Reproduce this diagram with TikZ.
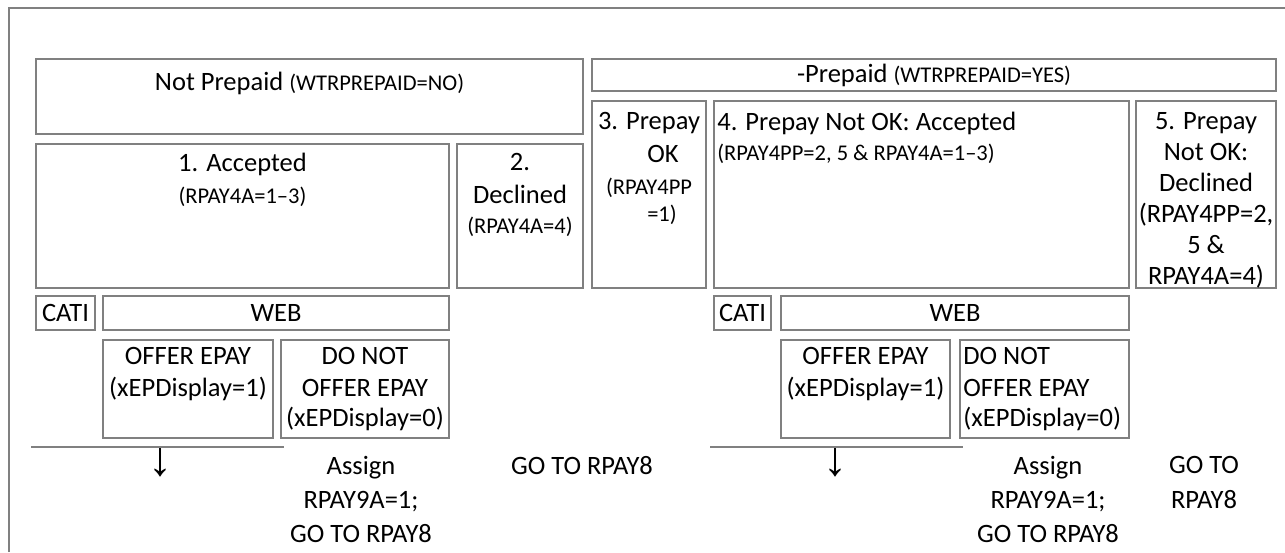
\documentclass[tikz,border=0pt]{standalone}
\usepackage{fontspec}
\setmainfont{Carlito}
\newfontfamily\arrowfont{Liberation Sans}
\usetikzlibrary{positioning, fit}
\definecolor{cline}{RGB}{128,128,128}
\newcommand{\bigtxt}{\fontsize{13.25pt}{16pt}\selectfont}
\newcommand{\smalltxt}{\fontsize{11.25pt}{14pt}\selectfont}

\begin{document}
\begin{tikzpicture}[
  x=0.5pt, y=-0.5pt,
  cell/.style = {rectangle, draw=cline, line width=1pt, inner sep=0pt},
  lbl/.style  = {inner sep=0pt, align=center, font=\bigtxt},
  lbll/.style = {inner sep=0pt, align=left, font=\bigtxt},
  rule/.style = {draw=cline, line width=1pt},
]
\useasboundingbox (0,0) rectangle (1285,552);
% outer frame (open right and bottom)
\coordinate (fbl) at (9,552);
\coordinate (ftl) at (9,8);
\coordinate (ftr) at (1285,8);
\draw[rule] (fbl) -- (ftl) -- (ftr);

% Row 1: headers
\node[cell, fit={(36,59) (583,134)}]    (np)  {};
\node[cell, fit={(592,59) (1276,91)}]   (pp)  {};
\node[lbl, below=7pt of np.north] (nptxt) {Not Prepaid {\smalltxt(WTRPREPAID=NO)}};
\node[lbl] at (pp.center)          (pptxt) {-Prepaid {\smalltxt(WTRPREPAID=YES)}};

% Row 2: outcomes
\node[cell, fit={(36,144) (449,288)}]   (acc) {};
\node[cell, fit={(457,144) (583,288)}]  (dec) {};
\node[cell, fit={(592,101) (706,288)}]  (ok)  {};
\node[cell, fit={(714,101) (1129,288)}] (nacc){};
\node[cell, fit={(1136,101) (1276,288)}](ndec){};
\node[lbl, below=5pt of acc.north]  (acctxt)  {1. Accepted\\ \smalltxt (RPAY4A=1–3)};
\node[lbl, below=5pt of dec.north]  (dectxt)  {2.\\[0.5pt] Declined\\[-1pt] \smalltxt (RPAY4A=4)};
\node[lbl, below=6pt of ok.north]   (oktxt)   {3. Prepay\\[0.5pt] \hspace*{14pt}OK\\
  \smalltxt (RPAY4PP\\[-2.5pt] \smalltxt \hspace*{13pt}=1)};
\node[lbll, anchor=north west] at ([xshift=2pt,yshift=-6pt]nacc.north west) (nacctxt)
  {4. Prepay Not OK: Accepted\\[-1pt] \smalltxt (RPAY4PP=2, 5 \& RPAY4A=1–3)};
\node[lbl, below=6pt of ndec.north] (ndectxt) {5. Prepay\\[-0.5pt] Not OK:\\[-0.5pt]
  Declined\\[-0.5pt] (RPAY4PP=2,\\[-0.5pt] 5 \&\\[-0.5pt] RPAY4A=4)};

% Row 3: mode (left)
\node[cell, fit={(36,296) (95,330)}]    (catil) {};
\node[cell, fit={(103,296) (449,330)}]  (webl)  {};
\node[lbl] at (catil.center) (catiltxt) {CATI};
\node[lbl] at (webl.center)  (webltxt)  {WEB};
\node[cell, fit={(103,340) (273,438)}]  (offl)  {};
\node[cell, fit={(281,340) (449,438)}]  (noffl) {};
\node[lbl, below=4pt of offl.north]  (offltxt)  {OFFER EPAY\\ (xEPDisplay=1)};
\node[lbl, below=4pt of noffl.north] (noffltxt) {DO NOT\\ OFFER EPAY\\[-1pt] (xEPDisplay=0)};

% Row 3: mode (right)
\node[cell, fit={(714,296) (771,330)}]  (catir) {};
\node[cell, fit={(781,296) (1129,330)}] (webr)  {};
\node[lbl] at (catir.center) (catirtxt) {CATI};
\node[lbl] at (webr.center)  (webrtxt)  {WEB};
\node[cell, fit={(781,340) (950,438)}]  (offr)  {};
\node[cell, fit={(960,340) (1129,438)}] (noffr) {};
\node[lbl, below=4pt of offr.north] (offrtxt) {OFFER EPAY\\ (xEPDisplay=1)};
\node[lbll, anchor=north west] at ([xshift=2pt,yshift=-4pt]noffr.north west) (noffrtxt)
  {DO NOT\\ OFFER EPAY\\[-1pt] (xEPDisplay=0)};

% Rules above routing
\coordinate (rl1) at (31,447);  \coordinate (rl2) at (284,447);
\coordinate (rr1) at (710,447); \coordinate (rr2) at (963,447);
\draw[rule] (rl1) -- (rl2);
\draw[rule] (rr1) -- (rr2);

% Routing
\node[lbl] at (160,463)  (arrl) {\arrowfont\fontsize{24pt}{24pt}\selectfont ↓};
\node[lbl, anchor=north] at (361,456)  (asgl) {Assign\\[1pt] RPAY9A=1;\\[1pt] GO TO RPAY8};
\node[lbl, anchor=north] at (582,456)  (gol)  {GO TO RPAY8};
\node[lbl] at (835,463)  (arrr) {\arrowfont\fontsize{24pt}{24pt}\selectfont ↓};
\node[lbl, anchor=north] at (1048,456) (asgr) {Assign\\[1pt] RPAY9A=1;\\[1pt] GO TO RPAY8};
\node[lbl, anchor=north] at (1204,456) (gor)  {GO TO\\[1.5pt] RPAY8};
\end{tikzpicture}
\end{document}
